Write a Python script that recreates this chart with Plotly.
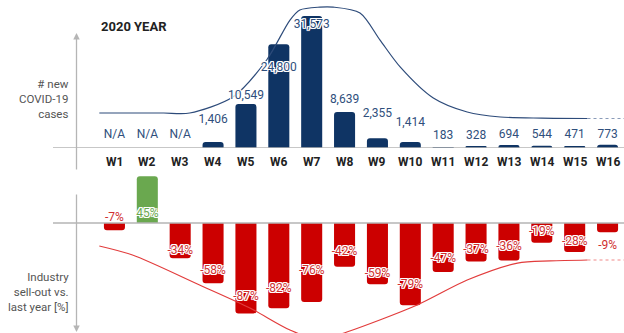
import plotly.graph_objects as go

# ---------------- data ----------------
weeks = ["W1", "W2", "W3", "W4", "W5", "W6", "W7", "W8",
         "W9", "W10", "W11", "W12", "W13", "W14", "W15", "W16"]
new_cases = [None, None, None, 1406, 10549, 24800, 31573, 8639,
             2355, 1414, 183, 328, 694, 544, 471, 773]
sellout_pct = [-7, 45, -34, -58, -87, -82, -76, -42,
               -59, -79, -47, -37, -36, -19, -28, -9]

# label placement (value units of each panel)
case_label_pos = [3100, 3100, 3100, 6700, 12400, 19100, 29400, 11500,
                  8100, 6000, 2900, 2900, 3000, 3000, 3000, 3000]
pct_label_pos = [5, 8.5, -27, -46, -71, -63.5, -46, -28,
                 -49, -59.5, -34.5, -26, -23, -8.5, -18, -22]

# trend curves (week index, value)
cases_trend_x = [-0.46, 0.5, 1.5, 2.29, 3.6, 4.63, 5.34, 5.64, 6.25, 6.65,
                 7.47, 8.08, 8.69, 9.70, 10.73, 11.74, 13.0, 14.39]
cases_trend_y = [8370, 8370, 8370, 8370, 12200, 21050, 30600, 33000, 33700, 33700,
                 32300, 25800, 19400, 11960, 8610, 7420, 7150, 7060]
cases_trend_tail_x = [14.39, 15.5]
cases_trend_tail_y = [7060, 7060]

sales_trend_x = [-0.46, 0.55, 2.59, 4.12, 5.34, 6.25, 7.07, 9.21, 10.73, 12.26, 13.26, 14.39]
sales_trend_y = [-22.1, -30.8, -59.6, -81.7, -102.9, -112.5, -104.8, -78.8, -54.8, -38.5, -36.5, -35.6]
sales_trend_tail_x = [14.39, 15.5]
sales_trend_tail_y = [-35.6, -35.6]

# ---------------- styling ----------------
W, H = 624, 333
NAVY = "#0f3464"
NAVY_TXT = "#2f4f7c"
RED = "#cc0000"
RED_TXT = "#d03030"
GREEN = "#6aa84f"
GRAY = "#b5b5b5"
FONT = "Roboto, Arial, sans-serif"
HALO = "1px 1px 0 #fff, -1px -1px 0 #fff, 1px -1px 0 #fff, -1px 1px 0 #fff, 0 1px 0 #fff, 0 -1px 0 #fff, 1px 0 0 #fff, -1px 0 0 #fff"


def px_x(p):
    return p / W


def px_y(p):
    return 1 - p / H


xs = list(range(len(weeks)))
fig = go.Figure()

# ---- top panel ----
fig.add_trace(go.Scatter(x=cases_trend_x, y=cases_trend_y, mode="lines",
                         line=dict(color="#2d4b7a", width=1.2, shape="spline", smoothing=0.8),
                         xaxis="x", yaxis="y", hoverinfo="skip"))
fig.add_trace(go.Scatter(x=cases_trend_tail_x, y=cases_trend_tail_y, mode="lines",
                         line=dict(color="#8a9bb8", width=1.2, dash="dot"),
                         xaxis="x", yaxis="y", hoverinfo="skip"))
fig.add_trace(go.Bar(x=xs, y=[v if v is not None else 0 for v in new_cases], width=0.64,
                     marker=dict(color=NAVY, cornerradius=3, line=dict(width=0)),
                     xaxis="x", yaxis="y", hoverinfo="skip"))
fig.add_trace(go.Scatter(x=xs, y=case_label_pos, mode="text",
                         text=[f"{v:,}" if v is not None else "N/A" for v in new_cases],
                         textfont=dict(family=FONT, size=12, color=NAVY_TXT, shadow=HALO),
                         cliponaxis=False, xaxis="x", yaxis="y", hoverinfo="skip"))

# ---- bottom panel ----
fig.add_trace(go.Scatter(x=sales_trend_x, y=sales_trend_y, mode="lines",
                         line=dict(color="#e23c3c", width=1.2, shape="spline", smoothing=0.8),
                         xaxis="x2", yaxis="y2", hoverinfo="skip"))
fig.add_trace(go.Scatter(x=sales_trend_tail_x, y=sales_trend_tail_y, mode="lines",
                         line=dict(color="#f08a8a", width=1.2, dash="dot"),
                         xaxis="x2", yaxis="y2", hoverinfo="skip"))
fig.add_trace(go.Bar(x=xs, y=sellout_pct, width=0.64,
                     marker=dict(color=[GREEN if v > 0 else RED for v in sellout_pct],
                                 cornerradius=3, line=dict(width=0)),
                     xaxis="x2", yaxis="y2", hoverinfo="skip"))
fig.add_trace(go.Scatter(x=xs, y=pct_label_pos, mode="text",
                         text=[f"{v}%" for v in sellout_pct],
                         textfont=dict(family=FONT, size=12,
                                       color=[GREEN if v > 0 else RED_TXT for v in sellout_pct],
                                       shadow=HALO),
                         cliponaxis=False, xaxis="x2", yaxis="y2", hoverinfo="skip"))

# ---- axes ----
xdom = [px_x(98), 1]
top_base, top_px_per_unit = 148, 132 / 31573
bot_base, bot_px_per_unit = 223, 1.04
bot_top_px = 170
ax_common = dict(showgrid=False, zeroline=False, showticklabels=False, ticks="", showline=False)
fig.update_layout(
    xaxis=dict(domain=xdom, range=[-0.5, 15.5], anchor="y", **ax_common),
    yaxis=dict(domain=[px_y(top_base), 1], range=[0, top_base / top_px_per_unit], anchor="x", **ax_common),
    xaxis2=dict(domain=xdom, range=[-0.5, 15.5], anchor="y2", **ax_common),
    yaxis2=dict(domain=[0, px_y(bot_top_px)],
                range=[-(H - bot_base) / bot_px_per_unit, (bot_base - bot_top_px) / bot_px_per_unit],
                anchor="x2", **ax_common),
)

# ---- baselines and vertical arrows ----
shapes = [
    dict(type="line", xref="paper", yref="y", x0=px_x(53), x1=1, y0=0, y1=0,
         line=dict(color=GRAY, width=1.5)),
    dict(type="line", xref="paper", yref="y2", x0=px_x(53), x1=1, y0=0, y1=0,
         line=dict(color=GRAY, width=1.5)),
]
annotations = [
    dict(xref="paper", yref="paper", x=px_x(76.5), y=px_y(33), ax=0, ay=138, text="",
         showarrow=True, arrowhead=2, arrowsize=1, arrowwidth=1.3, arrowcolor=GRAY),
    dict(xref="paper", yref="paper", x=px_x(76.5), y=px_y(332), ax=0, ay=-139, text="",
         showarrow=True, arrowhead=2, arrowsize=1, arrowwidth=1.3, arrowcolor=GRAY),
    dict(xref="paper", yref="paper", x=px_x(99), y=px_y(26), xanchor="left", yanchor="middle",
         text="<b>2020 YEAR</b>", showarrow=False, font=dict(family=FONT, size=13, color="#222")),
    dict(xref="paper", yref="paper", x=px_x(71), y=px_y(99), xanchor="right", yanchor="middle",
         align="right", text="# new<br>COVID-19<br>cases", showarrow=False,
         font=dict(family=FONT, size=11.5, color="#555")),
    dict(xref="paper", yref="paper", x=px_x(71), y=px_y(292), xanchor="right", yanchor="middle",
         align="right", text="Industry<br>sell-out vs.<br>last year [%]", showarrow=False,
         font=dict(family=FONT, size=11.5, color="#555")),
]
for i, w in enumerate(weeks):
    annotations.append(dict(xref="x", yref="paper", x=i, y=px_y(162), yanchor="middle",
                            text=f"<b>{w}</b>", showarrow=False,
                            font=dict(family=FONT, size=12, color="#222")))

fig.update_layout(
    width=W, height=H, margin=dict(l=0, r=0, t=0, b=0),
    paper_bgcolor="white", plot_bgcolor="white",
    showlegend=False, shapes=shapes, annotations=annotations,
    font=dict(family=FONT),
)

fig.write_html("out.html")
